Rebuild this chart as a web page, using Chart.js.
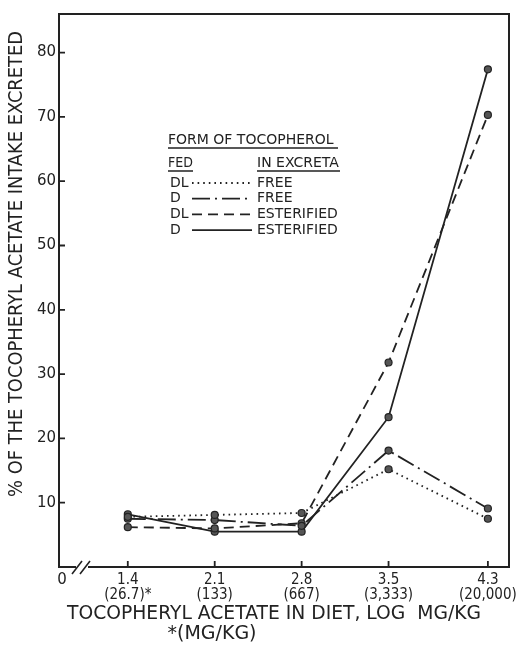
<!DOCTYPE html>
<html>
<head>
<meta charset="utf-8">
<title>Tocopheryl acetate excreted</title>
<script src="https://cdn.jsdelivr.net/npm/chart.js@4.4.1/dist/chart.umd.min.js"></script>
<style>
  html, body { margin: 0; padding: 0; background: #fff; }
  #wrap { width: 516px; height: 649px; }
</style>
</head>
<body>
<div id="wrap"><canvas id="excretionChart" width="516" height="649"></canvas></div>
<script>
// log mg/kg in diet, with the plain mg/kg printed under it
const logDose = [1.4, 2.1, 2.8, 3.5, 4.3];
const doseMgKg = ["(26.7)*", "(133)", "(667)", "(3,333)", "(20,000)"];

// % of the tocopheryl acetate intake excreted
const dlFree = [7.8, 8.1, 8.4, 15.2, 7.5];
const dFree = [7.5, 7.3, 6.4, 18.1, 9.1];
const dlEsterified = [6.2, 6.0, 6.8, 31.8, 70.3];
const dEsterified = [8.2, 5.5, 5.5, 23.3, 77.4];

// legend columns
const fedForm = ["DL", "D", "DL", "D"];
const excretaForm = ["FREE", "FREE", "ESTERIFIED", "ESTERIFIED"];

const yTicks = [10, 20, 30, 40, 50, 60, 70, 80];

const ink = "#222";
const dotFill = "#555";
const fontFamily = "'DejaVu Sans', 'Liberation Sans', sans-serif";
const narrowFamily = "'DejaVu Sans Condensed', 'Liberation Sans Narrow', 'DejaVu Sans', sans-serif";

function series(i, values, dash) {
  return {
    label: fedForm[i] + " " + excretaForm[i],
    data: logDose.map((x, k) => ({ x: x, y: values[k] })),
    borderColor: ink,
    backgroundColor: dotFill,
    borderWidth: 1.8,
    borderDash: dash,
    pointRadius: 3.5,
    pointBorderWidth: 1.2,
    pointBorderColor: ink,
    pointBackgroundColor: dotFill,
    tension: 0,
    fill: false,
  };
}

// frame, inward ticks, axis break, titles and the little legend table
const paperPlugin = {
  id: "paper",
  afterDraw(chart) {
    const { ctx, chartArea: a, scales } = chart;
    const x = scales.x, y = scales.y;
    ctx.save();
    ctx.strokeStyle = ink;
    ctx.fillStyle = ink;
    ctx.lineWidth = 2;

    // top, right and broken bottom line
    ctx.beginPath();
    ctx.moveTo(a.left, a.top);
    ctx.lineTo(a.right, a.top);
    ctx.lineTo(a.right, a.bottom);
    ctx.lineTo(a.left + 29, a.bottom);
    ctx.moveTo(a.left + 17, a.bottom);
    ctx.lineTo(a.left - 1, a.bottom);
    ctx.stroke();

    ctx.lineWidth = 1.6;
    ctx.beginPath();
    ctx.moveTo(a.left + 13, a.bottom + 7);
    ctx.lineTo(a.left + 23, a.bottom - 6);
    ctx.moveTo(a.left + 21, a.bottom + 7);
    ctx.lineTo(a.left + 31, a.bottom - 6);
    ctx.stroke();

    // tick marks point into the plot
    ctx.lineWidth = 1.8;
    ctx.beginPath();
    yTicks.forEach(v => {
      const py = y.getPixelForValue(v);
      ctx.moveTo(a.left, py);
      ctx.lineTo(a.left + 6, py);
    });
    logDose.forEach(v => {
      const px = x.getPixelForValue(v);
      ctx.moveTo(px, a.bottom);
      ctx.lineTo(px, a.bottom - 6);
    });
    ctx.stroke();

    ctx.font = "15px " + fontFamily;
    ctx.textAlign = "center";
    ctx.textBaseline = "middle";
    ctx.fillText("0", a.left + 3, a.bottom + 13);

    // axis titles
    ctx.font = "20px " + fontFamily;
    ctx.save();
    ctx.translate(17, 264);
    ctx.rotate(-Math.PI / 2);
    ctx.fillText("% OF THE TOCOPHERYL ACETATE INTAKE EXCRETED", 0, 0, 466);
    ctx.restore();
    ctx.fillText("TOCOPHERYL ACETATE IN DIET, LOG  MG/KG", 274, 614, 414);
    ctx.font = "19px " + fontFamily;
    ctx.fillText("*(MG/KG)", 212, 634, 116);

    // legend table
    ctx.font = "14px " + fontFamily;
    ctx.textAlign = "left";
    ctx.fillText("FORM OF TOCOPHEROL", 168, 140, 170);
    ctx.fillText("FED", 168, 163, 25);
    ctx.fillText("IN EXCRETA", 257, 163, 83);
    ctx.lineWidth = 1.4;
    ctx.beginPath();
    ctx.moveTo(168, 148); ctx.lineTo(338, 148);
    ctx.moveTo(168, 171); ctx.lineTo(193, 171);
    ctx.moveTo(257, 171); ctx.lineTo(340, 171);
    ctx.stroke();

    chart.data.datasets.forEach((ds, i) => {
      const ry = 183 + i * 15.7;
      ctx.fillText(fedForm[i], 170, ry);
      ctx.fillText(excretaForm[i], 257, ry, excretaForm[i].length > 4 ? 92 : 40);
      ctx.save();
      ctx.lineWidth = ds.borderWidth;
      ctx.setLineDash(ds.borderDash || []);
      ctx.beginPath();
      ctx.moveTo(192, ry);
      ctx.lineTo(252, ry);
      ctx.stroke();
      ctx.restore();
    });

    ctx.restore();
  },
};

new Chart(document.getElementById("excretionChart"), {
  type: "line",
  data: {
    datasets: [
      series(0, dlFree, [1.6, 4]),
      series(1, dFree, [18, 5, 2, 5]),
      series(2, dlEsterified, [10, 6]),
      series(3, dEsterified, []),
    ],
  },
  options: {
    responsive: false,
    animation: false,
    layout: { padding: { top: 14, right: 7, left: 0, bottom: 0 } },
    plugins: {
      legend: { display: false },
      tooltip: { enabled: false },
    },
    scales: {
      x: {
        type: "linear",
        min: 0.846,
        max: 4.47,
        afterBuildTicks: (s) => { s.ticks = logDose.map(v => ({ value: v })); },
        afterFit: (s) => {
          s.height = 82;
          s.paddingLeft = 0;
          s.paddingRight = 0;
        },
        grid: { display: false, drawTicks: false },
        border: { display: false },
        ticks: {
          autoSkip: false,
          maxRotation: 0,
          padding: 6,
          color: ink,
          font: { family: narrowFamily, size: 15, lineHeight: 1.0 },
          callback: (v) => {
            const i = logDose.indexOf(v);
            return i < 0 ? "" : [String(v), doseMgKg[i]];
          },
        },
      },
      y: {
        min: 0,
        max: 86,
        afterBuildTicks: (s) => { s.ticks = yTicks.map(v => ({ value: v })); },
        afterFit: (s) => { s.width = 59; },
        grid: { display: false, drawTicks: false },
        border: { display: true, color: ink, width: 2 },
        ticks: {
          padding: 3,
          color: ink,
          font: { family: fontFamily, size: 15 },
        },
      },
    },
  },
  plugins: [paperPlugin],
});
</script>
</body>
</html>
